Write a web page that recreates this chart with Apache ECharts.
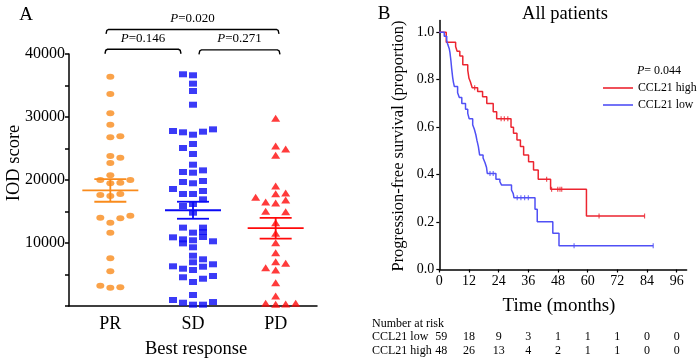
<!DOCTYPE html>
<html lang="en" style="height: 100%">
<head>
<meta charset="utf-8">
<title>IOD score and progression-free survival</title>
</head>
<body style="height: 100%; margin: 0; background: #fff">
<div id="container" style="width: 700px; height: 359px"></div>

<script type="text/javascript" src="https://cdn.jsdelivr.net/npm/echarts@6/dist/echarts.min.js"></script>

<script type="text/javascript">

var groups = ['PR', 'SD', 'PD'];

// IOD score of each patient, with the beeswarm column it sits in
var prValues = [36400, 33650, 30580, 28780, 26780, 26940, 23810, 23540, 22700, 20740, 20000, 20000, 19470, 19580,
    17620, 17780, 17460, 14020, 13220, 13920, 14330, 11640, 7570, 5500, 3230, 2900, 2970];
var prCols = [0, 0, 0, 0, 0, 1, 0, 1, 0, 0, -1, 2, 0, 1, -1, 1, 0, -1, 0, 1, 2, 0, 0, 0, -1, 0, 1];

var sdValues = [36780, 36620, 35290, 34130, 31950, 27780, 27570, 27190, 27670, 28040, 25710, 25080, 24130, 22430,
    21270, 21160, 21530, 19680, 19480, 19840, 18570, 17780, 17780, 18250, 16930, 15870, 16190, 14810, 12440, 12440,
    11640, 11750, 10900, 10580, 9940, 10430, 10950, 10270, 9320, 7980, 6940, 7410, 6300, 5920, 5710, 6240, 6620,
    4560, 3810, 4330, 4760, 1750, 950, 520, 210, 210, 630];
var sdCols = [-1, 0, 0, 0, 0, -2, -1, 0, 1, 2, 0, -1, 0, 0, -1, 0, 1, -1, 0, 1, -2, -1, 0, 1, 1, -1, 0, 0, -1, 1,
    0, 1, -2, -1, -1, 0, 1, 2, 0, 0, 0, 1, -2, -1, 0, 1, 2, -1, 0, 1, 2, 0, -2, -1, 0, 1, 2];

var pdValues = [29790, 25400, 24920, 23920, 19050, 17830, 17940, 17250, 16510, 16350, 16830, 15030, 14970, 13220,
    11540, 10050, 8460, 7030, 6770, 6080, 5710, 3700, 1590, 430, 270, 320, 430];
var pdCols = [0, 0, 1, 0, 0, 0, 1, -2, -1, 0, 1, -1, 1, 0, 0, 0, 0, 0, 1, -1, 0, 0, 0, -1, 0, 1, 2];

// mean +/- SEM as drawn
var groupMeans = [18350, 15200, 12350];
var groupSems = [1800, 1350, 1640];

// pairwise P values above the dot plot
var bracketFrom = [0.435, 1.572, 0.448];
var bracketTo = [1.355, 2.552, 2.54];
var bracketLevel = [40750, 40650, 43900];
var bracketP = ['0.146', '0.271', '0.020'];

// Kaplan-Meier steps [months, proportion]
var kmHigh = [[0, 1], [2.8, 0.958], [6.6, 0.94], [7.2, 0.92], [8.3, 0.9], [9.5, 0.863], [11.5, 0.84], [12.0, 0.806],
    [12.6, 0.79], [13.3, 0.766], [15.5, 0.75], [17.5, 0.728], [19.2, 0.7], [21.8, 0.665], [23.2, 0.635], [29.0, 0.6],
    [30.0, 0.574], [31.4, 0.546], [32.8, 0.518], [34.1, 0.483], [36.1, 0.454], [38.1, 0.419], [40.0, 0.38],
    [45.0, 0.338], [59.5, 0.2255], [83, 0.2255]];
var kmLow = [[0, 1], [2.0, 0.983], [3.0, 0.966], [3.4, 0.949], [4.0, 0.932], [4.3, 0.915], [4.7, 0.88], [5.0, 0.847],
    [5.4, 0.81], [5.7, 0.79], [6.1, 0.771], [7.4, 0.745], [8.1, 0.725], [9.1, 0.7], [10.6, 0.675], [11.5, 0.658],
    [12.1, 0.635], [13.5, 0.61], [14.2, 0.59], [14.8, 0.567], [15.2, 0.545], [15.8, 0.518], [16.3, 0.483],
    [17.7, 0.47], [18.5, 0.45], [19.1, 0.43], [19.4, 0.405], [22.9, 0.38], [24.5, 0.37], [25.2, 0.356],
    [29.2, 0.335], [29.9, 0.32], [30.2, 0.302], [38.7, 0.254], [39.6, 0.2015], [45.9, 0.153], [48.4, 0.1], [86.5, 0.1]];
var censorHigh = [[14.3, 0.766], [25, 0.635], [26.3, 0.635], [27.7, 0.635], [43.4, 0.38], [45.4, 0.338],
    [47.9, 0.338], [48.8, 0.338], [49.5, 0.338], [64.6, 0.2255], [83, 0.2255]];
var censorLow = [[20.5, 0.405], [21.8, 0.405], [31.5, 0.302], [33, 0.302], [34.5, 0.302], [36, 0.302],
    [54.5, 0.1], [86.5, 0.1]];

var riskTimes = [0, 12, 24, 36, 48, 60, 72, 84, 96];
var riskLow = [59, 18, 9, 3, 1, 1, 1, 0, 0];
var riskHigh = [48, 26, 13, 4, 2, 1, 1, 0, 0];

var serif = 'Liberation Serif';
var dotColors = ['#f98b1c', '#0a0af5', '#ff0a0a'];
var kmRed = '#ec2530';
var kmBlue = '#5050f5';
var colStep = 0.121;

function swarm(values, cols, g) {
    return values.map(function (v, i) {
        return [g + 0.5 + cols[i] * colStep, v];
    });
}

var dom = document.getElementById('container');
var myChart = echarts.init(dom, null, { renderer: 'canvas' });

var axisLine = { lineStyle: { color: '#000', width: 1.5 } };

var option = {
    animation: false,
    grid: [
        { left: 69, top: 54, width: 248, height: 252, outerBoundsMode: 'none' },
        { left: 439.3, top: 20.4, width: 247.3, height: 249.1, outerBoundsMode: 'none' }
    ],
    legend: {
        data: [{ name: 'CCL21 high', icon: 'rect' }, { name: 'CCL21 low', icon: 'rect' }],
        orient: 'vertical',
        left: 603,
        top: 82,
        padding: 0,
        itemWidth: 30,
        itemHeight: 1.6,
        itemGap: 5,
        selectedMode: false,
        textStyle: { fontFamily: serif, fontSize: 11.8, color: '#000' }
    },
    xAxis: [
        {
            type: 'category', gridIndex: 0, data: groups, boundaryGap: true,
            axisLine: axisLine,
            axisTick: { alignWithLabel: true, length: 4, lineStyle: { color: '#000', width: 1.5 } },
            axisLabel: { fontFamily: serif, fontSize: 18, color: '#000', margin: 9 }
        },
        { type: 'value', gridIndex: 0, min: 0, max: 3, show: false },
        {
            type: 'value', gridIndex: 1, min: 0, max: 100, interval: 12,
            splitLine: { show: false },
            axisLine: axisLine,
            axisTick: { length: 3, customValues: riskTimes, lineStyle: { color: '#000', width: 1.2 } },
            axisLabel: { customValues: riskTimes, fontFamily: serif, fontSize: 14, color: '#000', margin: 5 }
        }
    ],
    yAxis: [
        {
            type: 'value', gridIndex: 0, min: 0, max: 40000, interval: 5000,
            splitLine: { show: false },
            axisLine: { show: true, lineStyle: { color: '#000', width: 1.5 } },
            axisTick: { show: true, length: 4, lineStyle: { color: '#000', width: 1.5 } },
            axisLabel: {
                fontFamily: serif, fontSize: 16, color: '#000', margin: 4,
                formatter: function (v) { return (v > 0 && v % 10000 === 0) ? String(v) : ''; }
            }
        },
        {
            type: 'value', gridIndex: 1, min: 0, max: 1.05, interval: 0.2,
            splitLine: { show: false },
            axisLine: { show: true, lineStyle: { color: '#000', width: 1.5 } },
            axisTick: { show: true, length: 3, customValues: [0, 0.2, 0.4, 0.6, 0.8, 1.0], lineStyle: { color: '#000', width: 1.2 } },
            axisLabel: {
                customValues: [0, 0.2, 0.4, 0.6, 0.8, 1.0],
                fontFamily: serif, fontSize: 14, color: '#000', margin: 5,
                formatter: function (v) { return v.toFixed(1); }
            }
        }
    ],
    series: [
        {
            type: 'scatter', xAxisIndex: 1, yAxisIndex: 0, symbol: 'circle', symbolSize: [8, 6],
            itemStyle: { color: dotColors[0] }, data: swarm(prValues, prCols, 0)
        },
        {
            type: 'scatter', xAxisIndex: 1, yAxisIndex: 0, symbol: 'rect', symbolSize: [8, 6],
            itemStyle: { color: dotColors[1] }, data: swarm(sdValues, sdCols, 1)
        },
        {
            type: 'scatter', xAxisIndex: 1, yAxisIndex: 0, symbol: 'triangle', symbolSize: [9, 7],
            itemStyle: { color: dotColors[2] }, data: swarm(pdValues, pdCols, 2)
        },
        {
            type: 'custom', xAxisIndex: 1, yAxisIndex: 0, z: 5,
            data: groups.map(function (g, i) { return [i + 0.5, groupMeans[i], groupSems[i]]; }),
            renderItem: function (params, api) {
                var c = api.coord([api.value(0), api.value(1)]);
                var hi = api.coord([api.value(0), api.value(1) + api.value(2)]);
                var lo = api.coord([api.value(0), api.value(1) - api.value(2)]);
                var st = { stroke: dotColors[params.dataIndex], lineWidth: 1.8 };
                return {
                    type: 'group',
                    children: [
                        { type: 'line', shape: { x1: c[0] - 28, y1: c[1], x2: c[0] + 28, y2: c[1] }, style: st },
                        { type: 'line', shape: { x1: c[0] - 16, y1: hi[1], x2: c[0] + 16, y2: hi[1] }, style: st },
                        { type: 'line', shape: { x1: c[0] - 16, y1: lo[1], x2: c[0] + 16, y2: lo[1] }, style: st },
                        { type: 'line', shape: { x1: c[0], y1: hi[1], x2: c[0], y2: lo[1] }, style: st }
                    ]
                };
            }
        },
        {
            name: 'CCL21 high', type: 'line', xAxisIndex: 2, yAxisIndex: 1, step: 'end', showSymbol: false,
            color: kmRed, lineStyle: { color: kmRed, width: 1.5 }, data: kmHigh
        },
        {
            name: 'CCL21 low', type: 'line', xAxisIndex: 2, yAxisIndex: 1, step: 'end', showSymbol: false,
            color: kmBlue, lineStyle: { color: kmBlue, width: 1.5 }, data: kmLow
        },
        {
            type: 'scatter', xAxisIndex: 2, yAxisIndex: 1, symbol: 'rect', symbolSize: [1.2, 5],
            itemStyle: { color: kmRed }, data: censorHigh
        },
        {
            type: 'scatter', xAxisIndex: 2, yAxisIndex: 1, symbol: 'rect', symbolSize: [1.2, 5],
            itemStyle: { color: kmBlue }, data: censorLow
        }
    ]
};

myChart.setOption(option);

// annotations placed through the axes
function txt(x, y, text, size, align, extra) {
    var el = {
        type: 'text', x: x, y: y,
        style: {
            text: text, fill: '#000', font: size + 'px "' + serif + '"',
            align: align || 'center', verticalAlign: 'middle',
            rich: { i: { fontStyle: 'italic', fontFamily: serif, fontSize: size } }
        }
    };
    if (extra) { for (var k in extra) { el[k] = extra[k]; } }
    return el;
}

var gfx = [];
gfx.push(txt(26, 15, 'A', 19));
gfx.push(txt(384, 14, 'B', 19));
gfx.push(txt(565, 14, 'All patients', 18.5));
gfx.push(txt(14, 163, 'IOD score', 18.5, 'center', { rotation: Math.PI / 2 }));
gfx.push(txt(196, 349, 'Best response', 18.5));
gfx.push(txt(399, 146, 'Progression-free survival (proportion)', 16.5, 'center', { rotation: Math.PI / 2 }));
gfx.push(txt(559, 306, 'Time (months)', 19));
gfx.push(txt(637, 71, '{i|P}= 0.044', 12, 'left'));

bracketFrom.forEach(function (f, i) {
    var x1 = myChart.convertToPixel({ xAxisIndex: 1 }, f);
    var x2 = myChart.convertToPixel({ xAxisIndex: 1 }, bracketTo[i]);
    var y = myChart.convertToPixel({ yAxisIndex: 0 }, bracketLevel[i]);
    gfx.push({
        type: 'polyline',
        shape: { points: [[x1, y + 4.5], [x1 + 0.8, y + 1], [x1 + 2.5, y], [x2 - 2.5, y], [x2 - 0.8, y + 1], [x2, y + 4.5]] },
        style: { stroke: '#000', lineWidth: 1.4, fill: null }
    });
    gfx.push(txt((x1 + x2) / 2, y - 11, '{i|P}=' + bracketP[i], 13));
});

gfx.push(txt(372, 324, 'Number at risk', 12, 'left'));
gfx.push(txt(372, 337, 'CCL21 low', 12, 'left'));
gfx.push(txt(372, 351, 'CCL21 high', 12, 'left'));
riskTimes.forEach(function (t, i) {
    var x = myChart.convertToPixel({ xAxisIndex: 2 }, t);
    if (i === 0) { x += 2; }
    gfx.push(txt(x, 337, String(riskLow[i]), 12));
    gfx.push(txt(x, 351, String(riskHigh[i]), 12));
});

myChart.setOption({ graphic: gfx });

window.addEventListener('resize', myChart.resize);
</script>
</body>
</html>
